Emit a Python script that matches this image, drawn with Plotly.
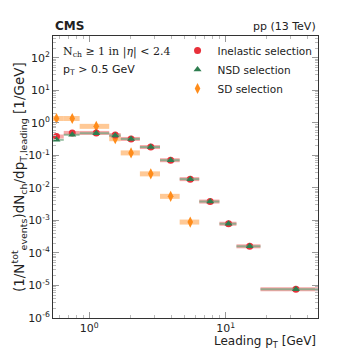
import plotly.graph_objects as go

# leading pT bin edges [GeV]
bin_lo = [0.5, 0.65, 0.85, 1.4, 1.7, 2.35, 3.3, 4.6, 6.4, 9.0, 12.0, 18.0]
bin_hi = [0.65, 0.85, 1.4, 1.7, 2.35, 3.3, 4.6, 6.4, 9.0, 12.0, 18.0, 47.5]

inel_vals = [0.38, 0.49, 0.49, 0.42, 0.32, 0.18, 0.071, 0.0186, 0.0038, 7.9e-4, 1.6e-4, 7.6e-6]
nsd_vals = [0.30, 0.43, 0.48, 0.41, 0.32, 0.18, 0.071, 0.0186, 0.0038, 7.9e-4, 1.6e-4, 7.6e-6]
sd_vals = [1.36, 1.36, 0.78, 0.325, 0.119, 0.027, 0.0055, 8.9e-4]

x_tick_exp = [0, 1]
y_tick_exp = [-6, -5, -4, -3, -2, -1, 0, 1, 2]

centers = [(lo + hi) / 2 for lo, hi in zip(bin_lo, bin_hi)]
half = [(hi - lo) / 2 for lo, hi in zip(bin_lo, bin_hi)]


def series(n, vals, name, symbol, color, band, thick, size, rank):
    return go.Scatter(
        x=centers[:n], y=vals, name=name, mode="markers",
        marker=dict(symbol=symbol, color=color, size=size),
        error_x=dict(type="data", array=half[:n], color=band, thickness=thick, width=0),
        legendrank=rank,
    )


def minor_vals(exps):
    return [m * 10.0 ** e for e in range(min(exps) - 1, max(exps) + 1) for m in range(2, 10)]


fig = go.Figure()
fig.add_trace(series(len(sd_vals), sd_vals, "SD selection", "diamond-tall", "#ff8c1a",
                     "rgba(255,165,80,0.6)", 5, 8, 3))
fig.add_trace(series(len(inel_vals), inel_vals, "Inelastic selection", "circle", "#e8303a",
                     "rgba(240,110,110,0.6)", 4, 7, 1))
fig.add_trace(series(len(nsd_vals), nsd_vals, "NSD selection", "triangle-up", "#2e7d4f",
                     "rgba(110,165,125,0.7)", 2, 7, 2))

axis_common = dict(
    type="log", showline=True, linecolor="#333", linewidth=1, mirror="allticks",
    ticks="inside", ticklen=6, tickcolor="#999", showgrid=False, zeroline=False,
    tickmode="array",
    tickfont=dict(size=11, color="#222", family="DejaVu Sans"),
)

fig.update_xaxes(range=[-0.266, 1.677],
                 tickvals=[10.0 ** e for e in x_tick_exp],
                 ticktext=[f"10<sup>{e}</sup>" for e in x_tick_exp],
                 minor=dict(ticks="inside", ticklen=3, tickcolor="#bbb", showgrid=False,
                            tickmode="array", tickvals=minor_vals(x_tick_exp)),
                 **axis_common)
fig.update_yaxes(range=[-6, 2.67],
                 tickvals=[10.0 ** e for e in y_tick_exp],
                 ticktext=[f"10<sup>{e}</sup>" for e in y_tick_exp],
                 minor=dict(ticks="inside", ticklen=3, tickcolor="#bbb", showgrid=False,
                            tickmode="array", tickvals=minor_vals(y_tick_exp)),
                 **axis_common)

fig.update_layout(
    width=354, height=354,
    margin=dict(l=45, r=44, t=28, b=44),
    plot_bgcolor="white", paper_bgcolor="white",
    font=dict(family="DejaVu Sans", color="#222"),
    showlegend=True,
    legend=dict(x=0.47, y=1.0, xanchor="left", yanchor="top",
                font=dict(size=10.5), bgcolor="rgba(0,0,0,0)", tracegroupgap=0,
                itemwidth=30),
    annotations=[
        dict(text="<b>CMS</b>", x=0, y=1.005, xref="paper", yref="paper",
             xanchor="left", yanchor="bottom", showarrow=False, font=dict(size=12)),
        dict(text="pp (13 TeV)", x=1, y=1.005, xref="paper", yref="paper",
             xanchor="right", yanchor="bottom", showarrow=False, font=dict(size=11)),
        dict(text="N<sub>ch</sub> ≥ 1 in |<i>η</i>| < 2.4", x=0.03, y=0.975, xref="paper",
             yref="paper", xanchor="left", yanchor="top", showarrow=False,
             font=dict(size=11, family="DejaVu Serif")),
        dict(text="p<sub>T</sub> > 0.5 GeV", x=0.03, y=0.91, xref="paper",
             yref="paper", xanchor="left", yanchor="top", showarrow=False,
             font=dict(size=11)),
        dict(text="Leading p<sub>T</sub> [GeV]", x=1, y=-0.05, xref="paper", yref="paper",
             xanchor="right", yanchor="top", showarrow=False, font=dict(size=12)),
        dict(text="(1/N<sup>tot</sup><sub>events</sub>)dN<sub>ch</sub>/dp<sub>T,leading</sub> [1/GeV]",
             x=-0.128, y=0.5, xref="paper", yref="paper", textangle=-90,
             xanchor="center", yanchor="middle", showarrow=False, font=dict(size=13.5)),
    ],
)

fig.write_html("out.html")
